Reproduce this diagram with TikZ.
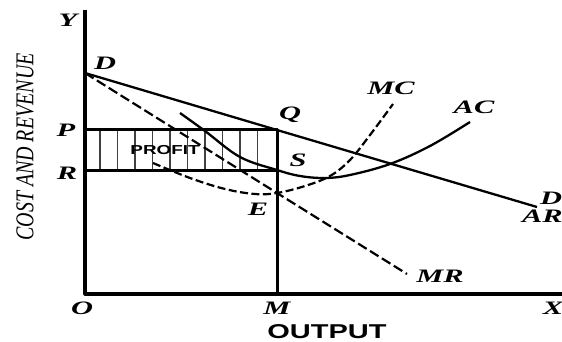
\documentclass[tikz,border=0pt]{standalone}
\usepackage{fontspec}
\newfontfamily\lblfont[FakeStretch=1.6]{Liberation Serif}
\newfontfamily\sidefont[FakeStretch=1.05]{Liberation Serif}
\newfontfamily\wordfont[FakeStretch=1.45]{Liberation Sans}

\begin{document}
\begin{tikzpicture}[x=1pt, y=-1pt, line join=round,
    axisline/.style={line width=3.2pt},
    boxline/.style={line width=3pt},
    hatch/.style={line width=1.9pt, black!75},
    demand/.style={line width=2.3pt},
    margin/.style={line width=2.2pt, dash pattern=on 10pt off 4pt},
    lbl/.style={font=\lblfont\bfseries\itshape\fontsize{19}{19}\selectfont}]

    % --- 1. bounding box ---
    \useasboundingbox (0,0) rectangle (562,342);

    % --- 2. points ---
    \coordinate (O) at (85,294);
    \coordinate (Ytop) at (85,10);
    \coordinate (Xend) at (562,294);
    \coordinate (D) at (85,73);
    \coordinate (P) at (85,130);
    \coordinate (Q) at (277,130);
    \coordinate (R) at (85,170);
    \coordinate (S) at (277,170);
    \coordinate (E) at (277,193);
    \coordinate (M) at (277,294);
    \coordinate (ARend) at (537,207);
    \coordinate (MRend) at (407,274);

    % --- 3. profit area (hatched) ---
    \foreach \hx in {0,...,9}
      \draw[hatch] ({100+17.5*\hx},130) -- ({100+17.5*\hx},170);
    \draw[boxline] (P) -- (Q) -- (M);
    \draw[boxline] (R) -- (S);

    % --- 4. axes ---
    \draw[axisline] (Ytop) -- (O) -- (Xend);

    % --- 5. AR and MR ---
    \draw[demand] (D) -- (Q) -- (ARend);
    \draw[margin] (D) -- (E) -- (MRend);

    % --- 6. AC and MC ---
    % AC (min at the point where MC cuts it)
    \draw[demand] plot[smooth, tension=0.6] coordinates
      {(180,113) (205,131) (240,157) (S) (300,176) (325,178)
       (350,175) (390,164) (430,146) (470,122)};
    % MC
    \draw[margin, dash pattern=on 8pt off 3.5pt] plot[smooth, tension=0.6] coordinates
      {(153,163) (190,178) (225,189) (255,194) (E) (305,186)
       (330,176) (350,160) (370,135) (393,104)};

    % --- 7. labels ---
    \node[lbl] (Ylbl) at (68,20) {Y};
    \node[lbl] (Dlbl) at (105,63) {D};
    \node[lbl] (Plbl) at (66,130) {P};
    \node[lbl] (Rlbl) at (67,173) {R};
    \node[lbl] (Olbl) at (82,308) {O};
    \node[lbl] (Mlbl) at (277,308) {M};
    \node[lbl] (Xlbl) at (553,308) {X};
    \node[lbl] (Qlbl) at (290,115) {Q};
    \node[lbl] (Slbl) at (298,160) {S};
    \node[lbl] (Elbl) at (258,209) {E};
    \node[lbl] (MClbl) at (391,88) {MC};
    \node[lbl] (AClbl) at (474,107) {AC};
    \node[lbl] (Dend) at (551,198) {D};
    \node[lbl, anchor=west, inner sep=0pt] (ARlbl) at (522,216) {AR};
    \node[lbl] (MRlbl) at (440,276) {MR};
    \node[font=\wordfont\bfseries\fontsize{13}{13}\selectfont] (profit) at (165,150) {PROFIT};
    \node[font=\wordfont\bfseries\fontsize{20}{20}\selectfont] (output) at (327,332) {OUTPUT};
    \node[font=\sidefont\itshape\fontsize{19}{19}\selectfont, rotate=90, yscale=1.35]
      (side) at (25,147) {COST AND REVENUE};

  \end{tikzpicture}
\end{document}
